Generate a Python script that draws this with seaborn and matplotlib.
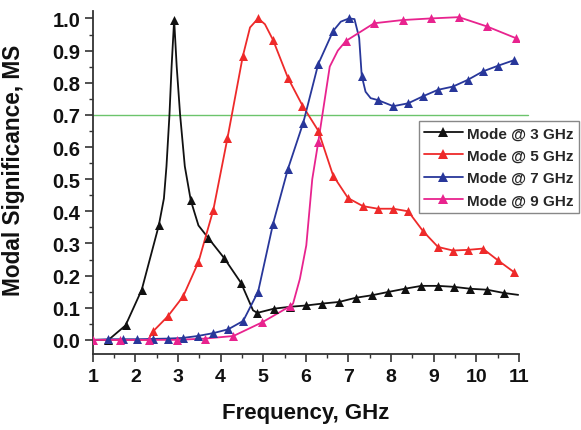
import matplotlib
matplotlib.use("Agg")
import matplotlib.pyplot as plt
import pandas as pd
import seaborn as sns
from matplotlib.lines import Line2D
from matplotlib.ticker import MultipleLocator

# ---------------- data ----------------
series_names = ["Mode @ 3 GHz", "Mode @ 5 GHz", "Mode @ 7 GHz", "Mode @ 9 GHz"]

# marked points
m3_freq = [1.37, 1.77, 2.15, 2.55, 2.91, 3.30, 3.71, 4.08, 4.48, 4.86, 5.25, 5.63, 6.01,
           6.39, 6.78, 7.17, 7.56, 7.93, 8.32, 8.71, 9.10, 9.47, 9.86, 10.25, 10.64]
m3_ms = [0.0, 0.045, 0.156, 0.356, 0.996, 0.434, 0.317, 0.255, 0.177, 0.084, 0.097, 0.103, 0.107,
         0.113, 0.118, 0.131, 0.139, 0.149, 0.159, 0.168, 0.168, 0.165, 0.159, 0.156, 0.146]
# unmarked points along the curve
c3_freq = [1.0, 2.67, 2.73, 2.80, 2.85, 2.97, 3.05, 3.16, 3.48, 4.76, 10.98]
c3_ms = [0.0, 0.44, 0.54, 0.70, 0.85, 0.85, 0.70, 0.54, 0.356, 0.092, 0.140]

m5_freq = [2.42, 2.76, 3.12, 3.48, 3.83, 4.16, 4.52, 4.88, 5.23, 5.58, 5.92, 6.29, 6.64,
           6.99, 7.34, 7.69, 8.05, 8.40, 8.75, 9.10, 9.45, 9.80, 10.15, 10.51, 10.88]
m5_ms = [0.027, 0.073, 0.135, 0.242, 0.405, 0.627, 0.882, 1.0, 0.933, 0.815, 0.729, 0.651, 0.511,
         0.441, 0.416, 0.408, 0.408, 0.400, 0.338, 0.289, 0.278, 0.280, 0.284, 0.247, 0.211]
c5_freq = [1.0, 2.30, 4.69, 5.04]
c5_ms = [0.0, 0.0, 0.972, 0.982]

m7_freq = [1.37, 1.72, 2.05, 2.41, 2.76, 3.11, 3.46, 3.83, 4.18, 4.53, 4.88, 5.23, 5.58, 5.94,
           6.29, 6.64, 7.01, 7.31, 7.69, 8.05, 8.40, 8.75, 9.10, 9.45, 9.80, 10.15, 10.51, 10.88]
m7_ms = [0.002, 0.002, 0.002, 0.003, 0.004, 0.006, 0.012, 0.021, 0.033, 0.059, 0.150, 0.361, 0.532, 0.676,
         0.858, 0.961, 1.0, 0.822, 0.746, 0.727, 0.736, 0.758, 0.778, 0.788, 0.809, 0.835, 0.853, 0.870]
c7_freq = [1.0, 6.82, 7.14, 7.25, 7.40, 7.52]
c7_ms = [0.0, 0.99, 0.998, 0.94, 0.772, 0.752]

m9_freq = [1.0, 1.65, 2.33, 2.98, 3.63, 4.30, 4.98, 5.62, 6.29, 6.94, 7.60, 8.27, 8.93,
           9.59, 10.25, 10.92]
m9_ms = [0.0, 0.0, 0.0, 0.0, 0.004, 0.012, 0.055, 0.104, 0.615, 0.930, 0.985, 0.995, 1.0,
         1.004, 0.975, 0.939]
c9_freq = [5.70, 5.86, 6.01, 6.15, 6.56, 6.75]
c9_ms = [0.113, 0.19, 0.294, 0.50, 0.85, 0.90]

threshold = 0.7
x_ticks = [1, 2, 3, 4, 5, 6, 7, 8, 9, 10, 11]
y_ticks = [0.0, 0.1, 0.2, 0.3, 0.4, 0.5, 0.6, 0.7, 0.8, 0.9, 1.0]

colors = ["#111111", "#ee2a2a", "#28379a", "#e8238e"]
threshold_color = "#6cc46c"

# ---------------- build frames ----------------
marked = [(m3_freq, m3_ms), (m5_freq, m5_ms), (m7_freq, m7_ms), (m9_freq, m9_ms)]
extra = [(c3_freq, c3_ms), (c5_freq, c5_ms), (c7_freq, c7_ms), (c9_freq, c9_ms)]

line_rows, mark_rows = [], []
for name, (mf, mv), (cf, cv) in zip(series_names, marked, extra):
    for f, v in zip(mf, mv):
        mark_rows.append({"freq": f, "ms": v, "mode": name})
        line_rows.append({"freq": f, "ms": v, "mode": name})
    for f, v in zip(cf, cv):
        line_rows.append({"freq": f, "ms": v, "mode": name})
lines_df = pd.DataFrame(line_rows).sort_values(["mode", "freq"])
marks_df = pd.DataFrame(mark_rows)

# ---------------- plot ----------------
sns.set_theme(style="white")
plt.rcParams["font.family"] = ["Liberation Sans", "DejaVu Sans"]
plt.rcParams["font.weight"] = "bold"

fig = plt.figure(figsize=(5.81, 4.31), dpi=100)
ax = fig.add_axes([0.1596, 0.1763, 0.7337, 0.7965])

for name, col in zip(series_names, colors):
    sns.lineplot(data=lines_df[lines_df["mode"] == name], x="freq", y="ms",
                 color=col, linewidth=1.3, estimator=None, sort=True, ax=ax, legend=False)
    sns.scatterplot(data=marks_df[marks_df["mode"] == name], x="freq", y="ms",
                    color=col, marker="^", s=42, linewidth=0, ax=ax, legend=False, zorder=3)

ax.axhline(threshold, xmin=0, xmax=1.02, color=threshold_color, linewidth=1.0, clip_on=False, zorder=1)

ax.set_xlim(1, 11)
ax.set_ylim(-0.044, 1.024)
ax.set_xticks(x_ticks)
ax.set_xticklabels([str(t) for t in x_ticks])
ax.set_yticks(y_ticks)
ax.set_yticklabels([f"{t:.1f}" for t in y_ticks])
ax.xaxis.set_minor_locator(MultipleLocator(0.5))
ax.yaxis.set_minor_locator(MultipleLocator(0.05))

for side in ["top", "right"]:
    ax.spines[side].set_visible(False)
for side in ["left", "bottom"]:
    ax.spines[side].set_color("#333333")
    ax.spines[side].set_linewidth(1.3)

ax.tick_params(axis="both", which="major", direction="out", length=6, width=1.2,
               color="#333333", bottom=True, left=True)
ax.tick_params(axis="both", which="minor", direction="out", length=3, width=1.0,
               color="#333333", bottom=True, left=True)
ax.tick_params(axis="x", which="major", labelsize=14, pad=4)
ax.tick_params(axis="y", which="major", labelsize=14.5, pad=3)
for lab in ax.get_xticklabels() + ax.get_yticklabels():
    lab.set_fontweight("bold")
    lab.set_color("#111111")

ax.set_xlabel("Frequency, GHz", fontsize=16, fontweight="bold", color="#111111", labelpad=12)
ax.set_ylabel("Modal Significance, MS", fontsize=16.3, fontweight="bold", color="#111111")
ax.yaxis.set_label_coords(-0.159, 0.539)

handles = [Line2D([0], [0], color=c, linewidth=1.3, marker="^", markersize=6.5, markeredgewidth=0)
           for c in colors]
leg = fig.legend(handles, series_names, loc="upper left",
                 bbox_to_anchor=(419 / 581, 1 - 122 / 431), bbox_transform=fig.transFigure,
                 frameon=True, fancybox=False, shadow=False, framealpha=1,
                 edgecolor="#888888", prop={"weight": "bold", "size": 11},
                 handlelength=2.5, handletextpad=0.3, labelspacing=0.55, borderpad=0.35,
                 borderaxespad=0)
leg.get_frame().set_linewidth(1.0)

fig.savefig("out.png", dpi=100)
